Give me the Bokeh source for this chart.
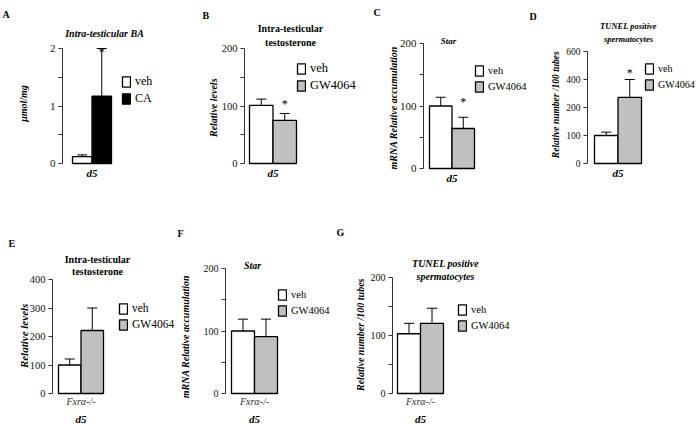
import math
from bokeh.plotting import figure
from bokeh.models import (ColumnDataSource, Whisker, TeeHead, Legend, LegendItem,
                          Label, LabelSet, FixedTicker)
from bokeh.layouts import row, column
from bokeh.embed import file_html
from bokeh.resources import INLINE

FONT = "Liberation Serif"

# ---------------- data ----------------
A_groups = ["veh", "CA"]
A_means = [0.12, 1.17]
A_upper = [0.15, 2.0]
A_star = ["", "*"]
A_yticks = [0, 1, 2]
A_yminor = [0.5, 1.5]

B_groups = ["veh", "GW4064"]
B_means = [101, 75]
B_upper = [112, 87]
B_star = ["", "*"]
B_yticks = [0, 100, 200]
B_yminor = [50, 150]

C_groups = ["veh", "GW4064"]
C_means = [100, 64]
C_upper = [114, 82]
C_star = ["", "*"]
C_yticks = [0, 100, 200]
C_yminor = [50, 150]

D_groups = ["veh", "GW4064"]
D_means = [100, 236]
D_upper = [112, 300]
D_star = ["", "*"]
D_yticks = [0, 100, 200, 300, 400]
D_ytick_labels = ["0", "100", "200", "400", "600"]

E_groups = ["veh", "GW4064"]
E_means = [100, 221]
E_upper = [121, 300]
E_star = ["", ""]
E_yticks = [0, 100, 200, 300, 400]

F_groups = ["veh", "GW4064"]
F_means = [100, 91]
F_upper = [119, 119]
F_star = ["", ""]
F_yticks = [0, 100, 200]
F_yminor = [50, 150]

G_groups = ["veh", "GW4064"]
G_means = [103, 121]
G_upper = [121, 147]
G_star = ["", ""]
G_yticks = [0, 100, 200]
G_yminor = [50, 150]

x_pos = [1, 2]
xcat_top = "d5"
xcat_bottom = "Fxr\u03b1-/-"
day_label = "d5"


def panel(letter, letter_xy, title_lines, title_style, title_xy, title_size,
          ylabel, ylabel_xy, groups, means, upper, stars, star_dy,
          yticks, yminor, ytick_labels, ytop, colors,
          W, H, fl, ft, fb, bar_left, s, leg_xy, leg_size, tick_size,
          xtick, day_y=None, ylab_size="10px"):
    x0 = 0.5 - bar_left / s
    x1 = x0 + W / s
    py = (fb - ft) / ytop
    y0 = -(H - fb) / py
    y1 = ytop + ft / py
    p = figure(width=W, height=H, output_backend="svg", toolbar_location=None,
               x_range=(x0, x1), y_range=(y0, y1),
               min_border=0, min_border_left=0, min_border_right=0,
               min_border_top=0, min_border_bottom=0)
    p.outline_line_color = None
    p.grid.visible = False
    p.background_fill_color = "white"

    renderers = []
    for i in range(2):
        r = p.vbar(x=[x_pos[i]], top=[means[i]], bottom=0, width=1,
                   fill_color=colors[i], line_color="black", line_width=1.3)
        renderers.append(r)

    src = ColumnDataSource(dict(x=x_pos, lower=means, upper=upper))
    p.add_layout(Whisker(base="x", lower="lower", upper="upper", source=src,
                         dimension="height", line_color="black", line_width=1,
                         upper_head=TeeHead(size=10, line_color="black", line_width=1),
                         lower_head=None))

    ssrc = ColumnDataSource(dict(x=x_pos, y=upper, t=stars))
    p.add_layout(LabelSet(x="x", y="y", text="t", source=ssrc, y_offset=star_dy,
                          text_align="center", text_baseline="middle",
                          text_font=FONT, text_font_size="12px",
                          text_color="black"))

    # y axis (drawn at a fixed location inside the frame)
    ya = p.yaxis[0]
    ya.fixed_location = x0 + fl / s
    ya.bounds = (0, ytop)
    ya.ticker = FixedTicker(ticks=yticks, minor_ticks=yminor or [])
    if ytick_labels is not None:
        ya.major_label_overrides = {t: l for t, l in zip(yticks, ytick_labels)}
    ya.axis_line_color = "#333333"
    ya.major_tick_line_color = "#333333"
    ya.minor_tick_line_color = "#333333"
    ya.major_tick_out = 4
    ya.major_tick_in = 0
    ya.minor_tick_out = 4
    ya.minor_tick_in = 0
    ya.major_label_standoff = 3
    ya.major_label_text_font = FONT
    ya.major_label_text_font_size = tick_size
    ya.major_label_text_color = "#111111"

    # x axis
    xa = p.xaxis[0]
    xa.fixed_location = 0
    xa.ticker = FixedTicker(ticks=[1.5], minor_ticks=[])
    xa.major_label_overrides = {1.5: xtick}
    xa.axis_line_color = None
    xa.major_tick_line_color = None
    xa.minor_tick_line_color = None
    xa.major_tick_out = 0
    xa.major_tick_in = 0
    xa.minor_tick_out = 0
    xa.minor_tick_in = 0
    xa.major_label_text_font = FONT
    if day_y is None:
        xa.major_label_standoff = 3
        xa.major_label_text_font_style = "bold italic"
        xa.major_label_text_font_size = "11px"
        xa.major_label_text_color = "black"
    else:
        xa.major_label_standoff = 2
        xa.major_label_text_font_style = "italic"
        xa.major_label_text_font_size = "10px"
        xa.major_label_text_color = "#333333"
        dx = (1.5 - x0) * s
        p.add_layout(Label(x=dx, y=H - day_y, x_units="screen", y_units="screen",
                           text=day_label, text_font=FONT, text_font_style="bold italic",
                           text_font_size="11px", text_baseline="middle",
                           text_align="center", text_color="black"))

    # y axis title
    yx, yy = ylabel_xy
    p.add_layout(Label(x=yx, y=H - yy, x_units="screen", y_units="screen",
                       text=ylabel, angle=math.pi / 2, text_font=FONT,
                       text_font_style="bold italic", text_font_size=ylab_size,
                       text_baseline="middle", text_align="center",
                       text_color="black"))

    # legend
    item_h = 14
    gap = 2
    bx, cy = leg_xy
    leg_bottom = cy - item_h / 2 + 2 * item_h + gap
    legend = Legend(items=[LegendItem(label=groups[i], renderers=[renderers[i]]) for i in range(2)],
                    location=(bx - 1, H - leg_bottom),
                    orientation="vertical", padding=0, margin=0, spacing=gap,
                    glyph_width=10, glyph_height=13, label_height=item_h,
                    label_standoff=4, label_text_font=FONT,
                    label_text_font_size=leg_size, label_text_color="black",
                    background_fill_alpha=0, border_line_alpha=0)
    p.add_layout(legend)

    # panel letter
    lx, ly = letter_xy
    p.add_layout(Label(x=lx, y=H - ly, x_units="screen", y_units="screen",
                       text=letter, text_font=FONT, text_font_style="bold",
                       text_font_size="10px", text_baseline="middle",
                       text_align="left", text_color="black"))
    # title lines
    tx, tys = title_xy
    for line, ty in zip(title_lines, tys):
        p.add_layout(Label(x=tx, y=H - ty, x_units="screen", y_units="screen",
                           text=line, text_font=FONT, text_font_style=title_style,
                           text_font_size=title_size, text_baseline="middle",
                           text_align="center", text_color="black"))
    return p


TOP_H = 190
BOT_H = 234

pA = panel("A", (2, 14), ["Intra-testicular BA"], "bold italic", (104, [33]), "10px",
           "\u03bcmol/mg", (23, 103), A_groups, A_means, A_upper, A_star, -3,
           A_yticks, A_yminor, None, 2, ["white", "black"],
           200, TOP_H, 62, 48, 163, 72, 19.5, (122, 83), "12px", "11px", xcat_top)

pB = panel("B", (2, 15), ["Intra-testicular", "testosterone"], "bold", (90, [28, 42]), "10px",
           "Relative  levels", (13, 106), B_groups, B_means, B_upper, B_star, 9,
           B_yticks, B_yminor, None, 200, ["white", "#c0c0c0"],
           168, TOP_H, 44, 48, 163, 49, 23.5, (97, 70), "12.5px", "10.5px", xcat_top)

pC = panel("C", (5, 12), ["Star"], "bold italic", (80, [40]), "9px",
           "mRNA Relative  accumulation", (25, 106), C_groups, C_means, C_upper, C_star, 15,
           C_yticks, C_yminor, None, 200, ["white", "#c0c0c0"],
           161, TOP_H, 55, 43, 168, 61, 22.5, (107, 70), "10.5px", "11px", xcat_top)

pD = panel("D", (0, 16), ["TUNEL positive", "spermatocytes"], "bold italic", (99, [25, 38]), "8.5px",
           "Relative  number /100 tubes", (26, 103), D_groups, D_means, D_upper, D_star, 7,
           D_yticks, None, D_ytick_labels, 400, ["white", "#c0c0c0"],
           169, TOP_H, 58, 51, 163, 65, 23.5, (116, 68), "10px", "9.5px", xcat_top,
           ylab_size="9.5px")

pE = panel("E", (8, 53), ["Intra-testicular", "testosterone"], "bold", (97, [69, 81]), "10px",
           "Relative  levels", (23, 144), E_groups, E_means, E_upper, E_star, 8,
           E_yticks, None, None, 400, ["white", "#c0c0c0"],
           174, BOT_H, 52, 89, 203, 58, 22.5, (119, 118), "11.5px", "10.5px",
           xcat_bottom, day_y=228, ylab_size="11px")

pF = panel("F", (3, 43), ["Star"], "bold italic", (78, [75]), "10px",
           "mRNA Relative accumulation", (11, 146), F_groups, F_means, F_upper, F_star, 8,
           F_yticks, F_yminor, None, 200, ["white", "#c0c0c0"],
           160, BOT_H, 51, 78, 203, 57, 23.0, (104, 104), "10.5px", "10px",
           xcat_bottom, day_y=228)

pG = panel("G", (2, 42), ["TUNEL positive", "spermatocytes"], "bold italic", (111, [73, 86]), "10px",
           "Relative  number /100 tubes", (26, 143), G_groups, G_means, G_upper, G_star, 8,
           G_yticks, G_yminor, None, 200, ["white", "#c0c0c0"],
           364, BOT_H, 58, 87, 203, 63, 23.0, (124, 119), "10.5px", "10px",
           xcat_bottom, day_y=228)

layout = column(row(pA, pB, pC, pD), row(pE, pF, pG))
open("out.html", "w").write(file_html(layout, INLINE))
